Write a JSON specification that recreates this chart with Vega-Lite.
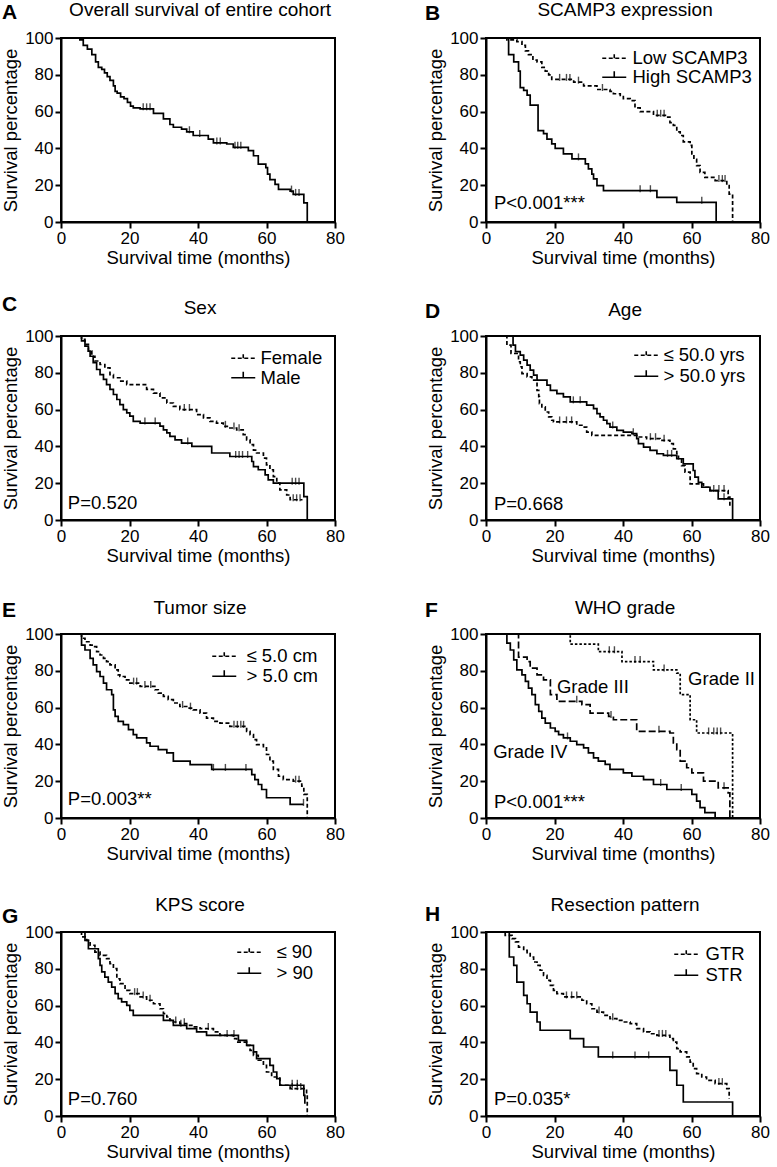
{
"$schema":"https://vega.github.io/schema/vega-lite/v6.json",
"padding":{"left":0,"top":0,"right":0,"bottom":0},
"background":"white",
"bounds":"flush",
"columns":2,
"spacing":{"row":114,"column":151},
"resolve":{"scale":{"strokeDash":"independent"},"legend":{"strokeDash":"independent"}},
"datasets":{
"km":[
{"p":"A","g":"All","t":0,"s":100},{"p":"A","g":"All","t":5.5,"s":99},{"p":"A","g":"All","t":6.5,"s":96},{"p":"A","g":"All","t":7.7,"s":94},{"p":"A","g":"All","t":9,"s":91},{"p":"A","g":"All","t":10.1,"s":87},{"p":"A","g":"All","t":10.9,"s":84},{"p":"A","g":"All","t":11.9,"s":83},{"p":"A","g":"All","t":12.7,"s":81},{"p":"A","g":"All","t":13.5,"s":79},{"p":"A","g":"All","t":14.3,"s":77},{"p":"A","g":"All","t":15.3,"s":74},{"p":"A","g":"All","t":15.8,"s":71},{"p":"A","g":"All","t":16.4,"s":70},{"p":"A","g":"All","t":17.4,"s":68},{"p":"A","g":"All","t":18.4,"s":67},{"p":"A","g":"All","t":19.4,"s":65},{"p":"A","g":"All","t":20.3,"s":63},{"p":"A","g":"All","t":21.1,"s":62},{"p":"A","g":"All","t":23.1,"s":61.5},{"p":"A","g":"All","t":27,"s":59},{"p":"A","g":"All","t":29.9,"s":56},{"p":"A","g":"All","t":31.8,"s":53},{"p":"A","g":"All","t":32.8,"s":51.5},{"p":"A","g":"All","t":35.2,"s":50.5},{"p":"A","g":"All","t":36.7,"s":49},{"p":"A","g":"All","t":38.6,"s":47},{"p":"A","g":"All","t":43,"s":45},{"p":"A","g":"All","t":44.5,"s":43},{"p":"A","g":"All","t":48.4,"s":42.4},{"p":"A","g":"All","t":50.3,"s":40.6},{"p":"A","g":"All","t":54.7,"s":38.8},{"p":"A","g":"All","t":56.2,"s":36},{"p":"A","g":"All","t":57.6,"s":31.4},{"p":"A","g":"All","t":59.8,"s":29.6},{"p":"A","g":"All","t":60.3,"s":26},{"p":"A","g":"All","t":61,"s":23},{"p":"A","g":"All","t":62.5,"s":20.5},{"p":"A","g":"All","t":63.5,"s":17.7},{"p":"A","g":"All","t":66.9,"s":16.8},{"p":"A","g":"All","t":67.8,"s":15},{"p":"A","g":"All","t":70.9,"s":10.4},{"p":"A","g":"All","t":71.9,"s":0},
{"p":"B","g":"Low SCAMP3","t":0,"s":100},{"p":"B","g":"Low SCAMP3","t":6.1,"s":99},{"p":"B","g":"Low SCAMP3","t":9,"s":98},{"p":"B","g":"Low SCAMP3","t":10.5,"s":96},{"p":"B","g":"Low SCAMP3","t":11.5,"s":93},{"p":"B","g":"Low SCAMP3","t":12.4,"s":91},{"p":"B","g":"Low SCAMP3","t":13.7,"s":88},{"p":"B","g":"Low SCAMP3","t":14.9,"s":87},{"p":"B","g":"Low SCAMP3","t":16.3,"s":84},{"p":"B","g":"Low SCAMP3","t":17.3,"s":82},{"p":"B","g":"Low SCAMP3","t":18.3,"s":80},{"p":"B","g":"Low SCAMP3","t":19.2,"s":77.5},{"p":"B","g":"Low SCAMP3","t":25.6,"s":76},{"p":"B","g":"Low SCAMP3","t":28.5,"s":74},{"p":"B","g":"Low SCAMP3","t":32.4,"s":72},{"p":"B","g":"Low SCAMP3","t":36.2,"s":71},{"p":"B","g":"Low SCAMP3","t":37.2,"s":69.7},{"p":"B","g":"Low SCAMP3","t":39.2,"s":68.8},{"p":"B","g":"Low SCAMP3","t":40.1,"s":67},{"p":"B","g":"Low SCAMP3","t":42.1,"s":66},{"p":"B","g":"Low SCAMP3","t":43.5,"s":62},{"p":"B","g":"Low SCAMP3","t":45,"s":60},{"p":"B","g":"Low SCAMP3","t":48.9,"s":58},{"p":"B","g":"Low SCAMP3","t":52.8,"s":57},{"p":"B","g":"Low SCAMP3","t":53.7,"s":54},{"p":"B","g":"Low SCAMP3","t":54.7,"s":52.5},{"p":"B","g":"Low SCAMP3","t":55.7,"s":49},{"p":"B","g":"Low SCAMP3","t":56.7,"s":47},{"p":"B","g":"Low SCAMP3","t":57.6,"s":43.6},{"p":"B","g":"Low SCAMP3","t":59.6,"s":41.6},{"p":"B","g":"Low SCAMP3","t":60.1,"s":37},{"p":"B","g":"Low SCAMP3","t":60.7,"s":34},{"p":"B","g":"Low SCAMP3","t":61.5,"s":30.6},{"p":"B","g":"Low SCAMP3","t":62.5,"s":27},{"p":"B","g":"Low SCAMP3","t":63.9,"s":24.3},{"p":"B","g":"Low SCAMP3","t":66.9,"s":22.5},{"p":"B","g":"Low SCAMP3","t":70.3,"s":19.8},{"p":"B","g":"Low SCAMP3","t":71,"s":15.2},{"p":"B","g":"Low SCAMP3","t":72,"s":0},
{"p":"B","g":"High SCAMP3","t":0,"s":100},{"p":"B","g":"High SCAMP3","t":6.6,"s":91},{"p":"B","g":"High SCAMP3","t":8.1,"s":87},{"p":"B","g":"High SCAMP3","t":9.5,"s":82},{"p":"B","g":"High SCAMP3","t":10,"s":73},{"p":"B","g":"High SCAMP3","t":11,"s":71.5},{"p":"B","g":"High SCAMP3","t":12,"s":69},{"p":"B","g":"High SCAMP3","t":12.9,"s":63.5},{"p":"B","g":"High SCAMP3","t":15.2,"s":49.7},{"p":"B","g":"High SCAMP3","t":16.8,"s":48},{"p":"B","g":"High SCAMP3","t":17.8,"s":45},{"p":"B","g":"High SCAMP3","t":19.2,"s":42.5},{"p":"B","g":"High SCAMP3","t":20.2,"s":40},{"p":"B","g":"High SCAMP3","t":22.6,"s":37},{"p":"B","g":"High SCAMP3","t":25.1,"s":34.3},{"p":"B","g":"High SCAMP3","t":29,"s":31.6},{"p":"B","g":"High SCAMP3","t":29.9,"s":28.9},{"p":"B","g":"High SCAMP3","t":30.9,"s":26},{"p":"B","g":"High SCAMP3","t":31.4,"s":23.4},{"p":"B","g":"High SCAMP3","t":32.4,"s":19.8},{"p":"B","g":"High SCAMP3","t":34.3,"s":17},{"p":"B","g":"High SCAMP3","t":49.9,"s":13.4},{"p":"B","g":"High SCAMP3","t":55.7,"s":10.7},{"p":"B","g":"High SCAMP3","t":67.2,"s":0},
{"p":"C","g":"Female","t":0,"s":100},{"p":"C","g":"Female","t":6,"s":98.2},{"p":"C","g":"Female","t":7,"s":95.5},{"p":"C","g":"Female","t":8,"s":91.8},{"p":"C","g":"Female","t":9,"s":89},{"p":"C","g":"Female","t":9.9,"s":86.4},{"p":"C","g":"Female","t":11.4,"s":84.5},{"p":"C","g":"Female","t":12.8,"s":82.7},{"p":"C","g":"Female","t":14.3,"s":79},{"p":"C","g":"Female","t":15.3,"s":77.3},{"p":"C","g":"Female","t":17.2,"s":75.5},{"p":"C","g":"Female","t":19.2,"s":73.6},{"p":"C","g":"Female","t":25,"s":71},{"p":"C","g":"Female","t":27,"s":69},{"p":"C","g":"Female","t":28.9,"s":66.4},{"p":"C","g":"Female","t":30.9,"s":63.6},{"p":"C","g":"Female","t":32.8,"s":61.8},{"p":"C","g":"Female","t":34.7,"s":60},{"p":"C","g":"Female","t":39.6,"s":57.3},{"p":"C","g":"Female","t":41.6,"s":55.5},{"p":"C","g":"Female","t":43.5,"s":53.6},{"p":"C","g":"Female","t":45.4,"s":52.7},{"p":"C","g":"Female","t":47.4,"s":50.9},{"p":"C","g":"Female","t":49.3,"s":50},{"p":"C","g":"Female","t":51.3,"s":49},{"p":"C","g":"Female","t":53.2,"s":46.4},{"p":"C","g":"Female","t":54.2,"s":43.6},{"p":"C","g":"Female","t":55.2,"s":41},{"p":"C","g":"Female","t":56.2,"s":38},{"p":"C","g":"Female","t":57.1,"s":36.4},{"p":"C","g":"Female","t":59.1,"s":33.6},{"p":"C","g":"Female","t":60,"s":30},{"p":"C","g":"Female","t":61,"s":27.3},{"p":"C","g":"Female","t":62,"s":23.6},{"p":"C","g":"Female","t":63,"s":20},{"p":"C","g":"Female","t":63.9,"s":16.4},{"p":"C","g":"Female","t":65.9,"s":13.6},{"p":"C","g":"Female","t":66.9,"s":11},{"p":"C","g":"Female","t":70.5,"s":11},
{"p":"C","g":"Male","t":0,"s":100},{"p":"C","g":"Male","t":6,"s":97.3},{"p":"C","g":"Male","t":7,"s":94.5},{"p":"C","g":"Male","t":8,"s":91.8},{"p":"C","g":"Male","t":8.5,"s":89},{"p":"C","g":"Male","t":9.4,"s":85.5},{"p":"C","g":"Male","t":10.4,"s":81.8},{"p":"C","g":"Male","t":11.4,"s":79},{"p":"C","g":"Male","t":12.4,"s":76.4},{"p":"C","g":"Male","t":13.3,"s":73.6},{"p":"C","g":"Male","t":14.3,"s":71},{"p":"C","g":"Male","t":15.3,"s":68.2},{"p":"C","g":"Male","t":16.3,"s":65.5},{"p":"C","g":"Male","t":17.2,"s":62.7},{"p":"C","g":"Male","t":18.2,"s":60},{"p":"C","g":"Male","t":19.2,"s":58.2},{"p":"C","g":"Male","t":20.1,"s":56.4},{"p":"C","g":"Male","t":21.1,"s":53.6},{"p":"C","g":"Male","t":23.1,"s":52.7},{"p":"C","g":"Male","t":28.9,"s":51},{"p":"C","g":"Male","t":29.9,"s":49},{"p":"C","g":"Male","t":30.9,"s":47.3},{"p":"C","g":"Male","t":31.8,"s":45.5},{"p":"C","g":"Male","t":33.3,"s":43.6},{"p":"C","g":"Male","t":35.2,"s":41.8},{"p":"C","g":"Male","t":38.2,"s":40},{"p":"C","g":"Male","t":44,"s":36.4},{"p":"C","g":"Male","t":49.3,"s":34.5},{"p":"C","g":"Male","t":55.7,"s":31.8},{"p":"C","g":"Male","t":56.2,"s":29},{"p":"C","g":"Male","t":57.6,"s":27.3},{"p":"C","g":"Male","t":59.6,"s":24.5},{"p":"C","g":"Male","t":60.5,"s":21.8},{"p":"C","g":"Male","t":62,"s":20},{"p":"C","g":"Male","t":70.9,"s":12.7},{"p":"C","g":"Male","t":71.9,"s":0},
{"p":"D","g":"≤ 50.0 yrs","t":0,"s":100},{"p":"D","g":"≤ 50.0 yrs","t":6.1,"s":95},{"p":"D","g":"≤ 50.0 yrs","t":7.3,"s":90.5},{"p":"D","g":"≤ 50.0 yrs","t":9.5,"s":86},{"p":"D","g":"≤ 50.0 yrs","t":10,"s":83.3},{"p":"D","g":"≤ 50.0 yrs","t":10.5,"s":79.6},{"p":"D","g":"≤ 50.0 yrs","t":12,"s":77.8},{"p":"D","g":"≤ 50.0 yrs","t":13.4,"s":76},{"p":"D","g":"≤ 50.0 yrs","t":14.9,"s":70.5},{"p":"D","g":"≤ 50.0 yrs","t":15.4,"s":67},{"p":"D","g":"≤ 50.0 yrs","t":15.6,"s":63.3},{"p":"D","g":"≤ 50.0 yrs","t":16.3,"s":61.5},{"p":"D","g":"≤ 50.0 yrs","t":17.3,"s":58.7},{"p":"D","g":"≤ 50.0 yrs","t":18.3,"s":56},{"p":"D","g":"≤ 50.0 yrs","t":19.2,"s":54.2},{"p":"D","g":"≤ 50.0 yrs","t":19.7,"s":53.3},{"p":"D","g":"≤ 50.0 yrs","t":26.5,"s":51.5},{"p":"D","g":"≤ 50.0 yrs","t":28,"s":50.5},{"p":"D","g":"≤ 50.0 yrs","t":29.4,"s":47.8},{"p":"D","g":"≤ 50.0 yrs","t":30.9,"s":46},{"p":"D","g":"≤ 50.0 yrs","t":44.5,"s":45.1},{"p":"D","g":"≤ 50.0 yrs","t":46.9,"s":44.2},{"p":"D","g":"≤ 50.0 yrs","t":50.8,"s":43.3},{"p":"D","g":"≤ 50.0 yrs","t":53.7,"s":41.5},{"p":"D","g":"≤ 50.0 yrs","t":54.7,"s":38.7},{"p":"D","g":"≤ 50.0 yrs","t":55.7,"s":36},{"p":"D","g":"≤ 50.0 yrs","t":56.2,"s":33.3},{"p":"D","g":"≤ 50.0 yrs","t":57.1,"s":29.6},{"p":"D","g":"≤ 50.0 yrs","t":58.1,"s":26},{"p":"D","g":"≤ 50.0 yrs","t":59.6,"s":19.6},{"p":"D","g":"≤ 50.0 yrs","t":63.5,"s":17.8},{"p":"D","g":"≤ 50.0 yrs","t":65.4,"s":16},{"p":"D","g":"≤ 50.0 yrs","t":70.7,"s":12.4},{"p":"D","g":"≤ 50.0 yrs","t":71.2,"s":7.8},
{"p":"D","g":"> 50.0 yrs","t":0,"s":100},{"p":"D","g":"> 50.0 yrs","t":7.9,"s":95},{"p":"D","g":"> 50.0 yrs","t":8.6,"s":91.5},{"p":"D","g":"> 50.0 yrs","t":10,"s":89.6},{"p":"D","g":"> 50.0 yrs","t":11,"s":86.9},{"p":"D","g":"> 50.0 yrs","t":12,"s":84.2},{"p":"D","g":"> 50.0 yrs","t":12.9,"s":81.5},{"p":"D","g":"> 50.0 yrs","t":13.9,"s":78.7},{"p":"D","g":"> 50.0 yrs","t":14.9,"s":76},{"p":"D","g":"> 50.0 yrs","t":17.8,"s":73.3},{"p":"D","g":"> 50.0 yrs","t":18.8,"s":70.5},{"p":"D","g":"> 50.0 yrs","t":20.7,"s":68.7},{"p":"D","g":"> 50.0 yrs","t":22.6,"s":66.9},{"p":"D","g":"> 50.0 yrs","t":24.6,"s":64.2},{"p":"D","g":"> 50.0 yrs","t":29.4,"s":62.4},{"p":"D","g":"> 50.0 yrs","t":31.4,"s":60.5},{"p":"D","g":"> 50.0 yrs","t":32.4,"s":57.8},{"p":"D","g":"> 50.0 yrs","t":33.3,"s":56},{"p":"D","g":"> 50.0 yrs","t":34.3,"s":54.2},{"p":"D","g":"> 50.0 yrs","t":35.3,"s":52.4},{"p":"D","g":"> 50.0 yrs","t":36.2,"s":50.5},{"p":"D","g":"> 50.0 yrs","t":38.2,"s":48.7},{"p":"D","g":"> 50.0 yrs","t":40.1,"s":47.8},{"p":"D","g":"> 50.0 yrs","t":42.6,"s":46.9},{"p":"D","g":"> 50.0 yrs","t":44,"s":44.2},{"p":"D","g":"> 50.0 yrs","t":44.5,"s":41.5},{"p":"D","g":"> 50.0 yrs","t":46,"s":39.6},{"p":"D","g":"> 50.0 yrs","t":47.9,"s":37.8},{"p":"D","g":"> 50.0 yrs","t":49.9,"s":36},{"p":"D","g":"> 50.0 yrs","t":51.8,"s":35.1},{"p":"D","g":"> 50.0 yrs","t":55.7,"s":33.3},{"p":"D","g":"> 50.0 yrs","t":57.6,"s":30.5},{"p":"D","g":"> 50.0 yrs","t":60.5,"s":26.9},{"p":"D","g":"> 50.0 yrs","t":61,"s":23.3},{"p":"D","g":"> 50.0 yrs","t":62,"s":20.5},{"p":"D","g":"> 50.0 yrs","t":63,"s":17.8},{"p":"D","g":"> 50.0 yrs","t":65.4,"s":16},{"p":"D","g":"> 50.0 yrs","t":67.8,"s":11.5},{"p":"D","g":"> 50.0 yrs","t":72,"s":0},
{"p":"E","g":"≤ 5.0 cm","t":0,"s":100},{"p":"E","g":"≤ 5.0 cm","t":6,"s":97.7},{"p":"E","g":"≤ 5.0 cm","t":7,"s":95.8},{"p":"E","g":"≤ 5.0 cm","t":8.5,"s":94},{"p":"E","g":"≤ 5.0 cm","t":9.4,"s":93.1},{"p":"E","g":"≤ 5.0 cm","t":10.4,"s":90.4},{"p":"E","g":"≤ 5.0 cm","t":11.4,"s":88.6},{"p":"E","g":"≤ 5.0 cm","t":12.4,"s":86.8},{"p":"E","g":"≤ 5.0 cm","t":13.3,"s":85},{"p":"E","g":"≤ 5.0 cm","t":14.3,"s":83.2},{"p":"E","g":"≤ 5.0 cm","t":15.8,"s":80.5},{"p":"E","g":"≤ 5.0 cm","t":16.7,"s":77.8},{"p":"E","g":"≤ 5.0 cm","t":17.2,"s":76.9},{"p":"E","g":"≤ 5.0 cm","t":18.7,"s":75.1},{"p":"E","g":"≤ 5.0 cm","t":20.1,"s":73.3},{"p":"E","g":"≤ 5.0 cm","t":23.1,"s":71.5},{"p":"E","g":"≤ 5.0 cm","t":27.4,"s":69.7},{"p":"E","g":"≤ 5.0 cm","t":28.4,"s":67.9},{"p":"E","g":"≤ 5.0 cm","t":29.9,"s":66.1},{"p":"E","g":"≤ 5.0 cm","t":31.3,"s":64.3},{"p":"E","g":"≤ 5.0 cm","t":32.8,"s":62.5},{"p":"E","g":"≤ 5.0 cm","t":34.7,"s":60.6},{"p":"E","g":"≤ 5.0 cm","t":36.7,"s":59.7},{"p":"E","g":"≤ 5.0 cm","t":38.6,"s":58.8},{"p":"E","g":"≤ 5.0 cm","t":40.6,"s":57},{"p":"E","g":"≤ 5.0 cm","t":42.5,"s":54.3},{"p":"E","g":"≤ 5.0 cm","t":44.5,"s":52.5},{"p":"E","g":"≤ 5.0 cm","t":46.4,"s":51.6},{"p":"E","g":"≤ 5.0 cm","t":49.3,"s":49.8},{"p":"E","g":"≤ 5.0 cm","t":54.2,"s":47.1},{"p":"E","g":"≤ 5.0 cm","t":55.2,"s":45.3},{"p":"E","g":"≤ 5.0 cm","t":56.2,"s":42.6},{"p":"E","g":"≤ 5.0 cm","t":57.1,"s":39.9},{"p":"E","g":"≤ 5.0 cm","t":59.1,"s":38.1},{"p":"E","g":"≤ 5.0 cm","t":60,"s":34.5},{"p":"E","g":"≤ 5.0 cm","t":61,"s":30.9},{"p":"E","g":"≤ 5.0 cm","t":62,"s":26.4},{"p":"E","g":"≤ 5.0 cm","t":63.5,"s":22.7},{"p":"E","g":"≤ 5.0 cm","t":64.9,"s":20.9},{"p":"E","g":"≤ 5.0 cm","t":67.8,"s":20},{"p":"E","g":"≤ 5.0 cm","t":70.3,"s":17.3},{"p":"E","g":"≤ 5.0 cm","t":70.9,"s":12.8},{"p":"E","g":"≤ 5.0 cm","t":71.9,"s":0},
{"p":"E","g":"> 5.0 cm","t":0,"s":100},{"p":"E","g":"> 5.0 cm","t":6,"s":94},{"p":"E","g":"> 5.0 cm","t":7,"s":91.3},{"p":"E","g":"> 5.0 cm","t":8.5,"s":86.8},{"p":"E","g":"> 5.0 cm","t":9.4,"s":83.2},{"p":"E","g":"> 5.0 cm","t":10.4,"s":79.6},{"p":"E","g":"> 5.0 cm","t":11.4,"s":76.9},{"p":"E","g":"> 5.0 cm","t":12.4,"s":73.3},{"p":"E","g":"> 5.0 cm","t":13.3,"s":69.7},{"p":"E","g":"> 5.0 cm","t":14.8,"s":67},{"p":"E","g":"> 5.0 cm","t":15.3,"s":58.8},{"p":"E","g":"> 5.0 cm","t":15.8,"s":55.2},{"p":"E","g":"> 5.0 cm","t":16.7,"s":52.5},{"p":"E","g":"> 5.0 cm","t":18.2,"s":50.7},{"p":"E","g":"> 5.0 cm","t":19.7,"s":48},{"p":"E","g":"> 5.0 cm","t":21.1,"s":45.3},{"p":"E","g":"> 5.0 cm","t":22.1,"s":43.5},{"p":"E","g":"> 5.0 cm","t":25,"s":40.8},{"p":"E","g":"> 5.0 cm","t":26,"s":39},{"p":"E","g":"> 5.0 cm","t":28.4,"s":37.2},{"p":"E","g":"> 5.0 cm","t":30.9,"s":35.4},{"p":"E","g":"> 5.0 cm","t":32.8,"s":30.9},{"p":"E","g":"> 5.0 cm","t":37.7,"s":29},{"p":"E","g":"> 5.0 cm","t":44,"s":26.4},{"p":"E","g":"> 5.0 cm","t":55.7,"s":23.6},{"p":"E","g":"> 5.0 cm","t":56.6,"s":20.9},{"p":"E","g":"> 5.0 cm","t":57.6,"s":18.2},{"p":"E","g":"> 5.0 cm","t":58.6,"s":15.5},{"p":"E","g":"> 5.0 cm","t":60,"s":11},{"p":"E","g":"> 5.0 cm","t":66.9,"s":7.4},{"p":"E","g":"> 5.0 cm","t":70.8,"s":7.4},
{"p":"F","g":"Grade II","t":0,"s":100},{"p":"F","g":"Grade II","t":24.6,"s":94.5},{"p":"F","g":"Grade II","t":32.8,"s":90.4},{"p":"F","g":"Grade II","t":39.7,"s":85},{"p":"F","g":"Grade II","t":48.9,"s":80.5},{"p":"F","g":"Grade II","t":55.7,"s":78.7},{"p":"F","g":"Grade II","t":56.7,"s":67},{"p":"F","g":"Grade II","t":59.6,"s":53.4},{"p":"F","g":"Grade II","t":61.5,"s":46.2},{"p":"F","g":"Grade II","t":72,"s":0},
{"p":"F","g":"Grade III","t":0,"s":100},{"p":"F","g":"Grade III","t":9.5,"s":87.4},{"p":"F","g":"Grade III","t":12,"s":85},{"p":"F","g":"Grade III","t":12.9,"s":81.4},{"p":"F","g":"Grade III","t":14.9,"s":77.8},{"p":"F","g":"Grade III","t":16.8,"s":75.1},{"p":"F","g":"Grade III","t":18.8,"s":67},{"p":"F","g":"Grade III","t":20.7,"s":63.4},{"p":"F","g":"Grade III","t":28,"s":61.6},{"p":"F","g":"Grade III","t":30.4,"s":57},{"p":"F","g":"Grade III","t":35.8,"s":55.2},{"p":"F","g":"Grade III","t":37.2,"s":53.4},{"p":"F","g":"Grade III","t":44,"s":47.1},{"p":"F","g":"Grade III","t":53.7,"s":46.2},{"p":"F","g":"Grade III","t":54.7,"s":40.8},{"p":"F","g":"Grade III","t":55.7,"s":37.2},{"p":"F","g":"Grade III","t":56.7,"s":30.9},{"p":"F","g":"Grade III","t":58.6,"s":27.3},{"p":"F","g":"Grade III","t":60.1,"s":24.5},{"p":"F","g":"Grade III","t":63.5,"s":20},{"p":"F","g":"Grade III","t":67.8,"s":16.4},{"p":"F","g":"Grade III","t":70.7,"s":13.7},{"p":"F","g":"Grade III","t":71.2,"s":0},
{"p":"F","g":"Grade IV","t":0,"s":100},{"p":"F","g":"Grade IV","t":6.1,"s":95},{"p":"F","g":"Grade IV","t":7.1,"s":91.3},{"p":"F","g":"Grade IV","t":8.1,"s":85.9},{"p":"F","g":"Grade IV","t":9,"s":80.5},{"p":"F","g":"Grade IV","t":10.5,"s":77.8},{"p":"F","g":"Grade IV","t":11.5,"s":74.2},{"p":"F","g":"Grade IV","t":12.4,"s":70.6},{"p":"F","g":"Grade IV","t":13.4,"s":67},{"p":"F","g":"Grade IV","t":14.4,"s":61.6},{"p":"F","g":"Grade IV","t":15.4,"s":58},{"p":"F","g":"Grade IV","t":16.3,"s":54.3},{"p":"F","g":"Grade IV","t":17.3,"s":51.6},{"p":"F","g":"Grade IV","t":18.8,"s":48.9},{"p":"F","g":"Grade IV","t":20.2,"s":47.1},{"p":"F","g":"Grade IV","t":21.2,"s":45.3},{"p":"F","g":"Grade IV","t":22.6,"s":43.5},{"p":"F","g":"Grade IV","t":24.6,"s":41.7},{"p":"F","g":"Grade IV","t":26.5,"s":39.9},{"p":"F","g":"Grade IV","t":28.5,"s":38.1},{"p":"F","g":"Grade IV","t":29.9,"s":35.4},{"p":"F","g":"Grade IV","t":31.4,"s":32.7},{"p":"F","g":"Grade IV","t":32.8,"s":30.9},{"p":"F","g":"Grade IV","t":34.8,"s":29.1},{"p":"F","g":"Grade IV","t":36.2,"s":26.4},{"p":"F","g":"Grade IV","t":40.1,"s":24.5},{"p":"F","g":"Grade IV","t":42.6,"s":22.7},{"p":"F","g":"Grade IV","t":46,"s":20.9},{"p":"F","g":"Grade IV","t":48.9,"s":18.2},{"p":"F","g":"Grade IV","t":52.8,"s":15.5},{"p":"F","g":"Grade IV","t":60.1,"s":12.8},{"p":"F","g":"Grade IV","t":61.5,"s":9.2},{"p":"F","g":"Grade IV","t":62.5,"s":5.6},{"p":"F","g":"Grade IV","t":63.9,"s":2.9},{"p":"F","g":"Grade IV","t":66.9,"s":0},
{"p":"G","g":"≤ 90","t":0,"s":100},{"p":"G","g":"≤ 90","t":6,"s":97.3},{"p":"G","g":"≤ 90","t":7.5,"s":95.5},{"p":"G","g":"≤ 90","t":8.5,"s":92.8},{"p":"G","g":"≤ 90","t":9.9,"s":89.1},{"p":"G","g":"≤ 90","t":11.4,"s":87.3},{"p":"G","g":"≤ 90","t":13.3,"s":85.5},{"p":"G","g":"≤ 90","t":14.3,"s":82.8},{"p":"G","g":"≤ 90","t":15.3,"s":80.1},{"p":"G","g":"≤ 90","t":16.3,"s":74.6},{"p":"G","g":"≤ 90","t":17.2,"s":71.9},{"p":"G","g":"≤ 90","t":18.7,"s":68.3},{"p":"G","g":"≤ 90","t":20.1,"s":66.5},{"p":"G","g":"≤ 90","t":23.1,"s":64.7},{"p":"G","g":"≤ 90","t":25,"s":62.9},{"p":"G","g":"≤ 90","t":27,"s":61},{"p":"G","g":"≤ 90","t":28.9,"s":58.3},{"p":"G","g":"≤ 90","t":29.9,"s":55.6},{"p":"G","g":"≤ 90","t":30.9,"s":53.8},{"p":"G","g":"≤ 90","t":31.8,"s":52},{"p":"G","g":"≤ 90","t":32.8,"s":51.1},{"p":"G","g":"≤ 90","t":34.7,"s":50.2},{"p":"G","g":"≤ 90","t":36.7,"s":49.3},{"p":"G","g":"≤ 90","t":38.6,"s":48.4},{"p":"G","g":"≤ 90","t":40.6,"s":47.5},{"p":"G","g":"≤ 90","t":44.5,"s":45.7},{"p":"G","g":"≤ 90","t":46.4,"s":43.8},{"p":"G","g":"≤ 90","t":50.3,"s":42},{"p":"G","g":"≤ 90","t":51.3,"s":40.2},{"p":"G","g":"≤ 90","t":54.2,"s":38.4},{"p":"G","g":"≤ 90","t":55.2,"s":35.7},{"p":"G","g":"≤ 90","t":56.2,"s":33},{"p":"G","g":"≤ 90","t":57.6,"s":30.3},{"p":"G","g":"≤ 90","t":59.1,"s":27.5},{"p":"G","g":"≤ 90","t":60,"s":23.9},{"p":"G","g":"≤ 90","t":61.5,"s":21.2},{"p":"G","g":"≤ 90","t":63.9,"s":16.7},{"p":"G","g":"≤ 90","t":66.9,"s":14.9},{"p":"G","g":"≤ 90","t":71.7,"s":12.1},{"p":"G","g":"≤ 90","t":71.9,"s":0},
{"p":"G","g":"> 90","t":0,"s":100},{"p":"G","g":"> 90","t":7,"s":95.5},{"p":"G","g":"> 90","t":8,"s":90.9},{"p":"G","g":"> 90","t":10.9,"s":85.5},{"p":"G","g":"> 90","t":11.4,"s":81.9},{"p":"G","g":"> 90","t":11.9,"s":78.3},{"p":"G","g":"> 90","t":12.8,"s":75.5},{"p":"G","g":"> 90","t":13.8,"s":72.8},{"p":"G","g":"> 90","t":14.8,"s":70},{"p":"G","g":"> 90","t":15.8,"s":66.5},{"p":"G","g":"> 90","t":16.7,"s":63.8},{"p":"G","g":"> 90","t":17.7,"s":62},{"p":"G","g":"> 90","t":19.2,"s":60.1},{"p":"G","g":"> 90","t":20.1,"s":57.4},{"p":"G","g":"> 90","t":21.1,"s":54.7},{"p":"G","g":"> 90","t":29.9,"s":52},{"p":"G","g":"> 90","t":32.8,"s":49.3},{"p":"G","g":"> 90","t":36.7,"s":47.5},{"p":"G","g":"> 90","t":39.6,"s":45.7},{"p":"G","g":"> 90","t":42.5,"s":43.8},{"p":"G","g":"> 90","t":51.8,"s":41.1},{"p":"G","g":"> 90","t":54.2,"s":38.4},{"p":"G","g":"> 90","t":56.2,"s":34.8},{"p":"G","g":"> 90","t":57.1,"s":31.2},{"p":"G","g":"> 90","t":61,"s":27.5},{"p":"G","g":"> 90","t":62,"s":23.9},{"p":"G","g":"> 90","t":63,"s":20.3},{"p":"G","g":"> 90","t":63.9,"s":16.7},{"p":"G","g":"> 90","t":70.9,"s":11.2},{"p":"G","g":"> 90","t":71.2,"s":6.7},
{"p":"H","g":"GTR","t":0,"s":100},{"p":"H","g":"GTR","t":5.6,"s":98.2},{"p":"H","g":"GTR","t":7.6,"s":96.4},{"p":"H","g":"GTR","t":8.6,"s":94.6},{"p":"H","g":"GTR","t":9.5,"s":91.8},{"p":"H","g":"GTR","t":11,"s":90},{"p":"H","g":"GTR","t":12,"s":88.2},{"p":"H","g":"GTR","t":12.9,"s":86.4},{"p":"H","g":"GTR","t":13.9,"s":83.7},{"p":"H","g":"GTR","t":14.9,"s":81.9},{"p":"H","g":"GTR","t":15.8,"s":79.2},{"p":"H","g":"GTR","t":16.8,"s":76.4},{"p":"H","g":"GTR","t":17.8,"s":73.7},{"p":"H","g":"GTR","t":18.8,"s":71},{"p":"H","g":"GTR","t":19.7,"s":68.3},{"p":"H","g":"GTR","t":20.7,"s":66.5},{"p":"H","g":"GTR","t":22.6,"s":64.7},{"p":"H","g":"GTR","t":28,"s":62.9},{"p":"H","g":"GTR","t":29.4,"s":61},{"p":"H","g":"GTR","t":30.9,"s":58.3},{"p":"H","g":"GTR","t":32.4,"s":56.5},{"p":"H","g":"GTR","t":34.3,"s":54.7},{"p":"H","g":"GTR","t":36.2,"s":52.9},{"p":"H","g":"GTR","t":38.2,"s":52},{"p":"H","g":"GTR","t":40.1,"s":51.1},{"p":"H","g":"GTR","t":42.1,"s":50.2},{"p":"H","g":"GTR","t":44,"s":47.5},{"p":"H","g":"GTR","t":46,"s":45.7},{"p":"H","g":"GTR","t":47.9,"s":44.7},{"p":"H","g":"GTR","t":49.9,"s":43.8},{"p":"H","g":"GTR","t":53.7,"s":42},{"p":"H","g":"GTR","t":54.7,"s":40.2},{"p":"H","g":"GTR","t":55.7,"s":36.6},{"p":"H","g":"GTR","t":56.7,"s":34.8},{"p":"H","g":"GTR","t":58.6,"s":32.1},{"p":"H","g":"GTR","t":59.6,"s":29.3},{"p":"H","g":"GTR","t":60.5,"s":25.7},{"p":"H","g":"GTR","t":61.5,"s":23},{"p":"H","g":"GTR","t":63,"s":21.2},{"p":"H","g":"GTR","t":64.4,"s":19.4},{"p":"H","g":"GTR","t":66.9,"s":17.6},{"p":"H","g":"GTR","t":70.3,"s":14.9},{"p":"H","g":"GTR","t":71,"s":9.4},
{"p":"H","g":"STR","t":0,"s":100},{"p":"H","g":"STR","t":6.8,"s":86.4},{"p":"H","g":"STR","t":8.1,"s":81.9},{"p":"H","g":"STR","t":9,"s":72.8},{"p":"H","g":"STR","t":11,"s":65.6},{"p":"H","g":"STR","t":12,"s":61},{"p":"H","g":"STR","t":12.9,"s":56.5},{"p":"H","g":"STR","t":14.9,"s":51.1},{"p":"H","g":"STR","t":15.8,"s":46.6},{"p":"H","g":"STR","t":24.6,"s":42},{"p":"H","g":"STR","t":28.5,"s":37.5},{"p":"H","g":"STR","t":32.8,"s":32.1},{"p":"H","g":"STR","t":53.7,"s":24.8},{"p":"H","g":"STR","t":55.7,"s":16.7},{"p":"H","g":"STR","t":57.6,"s":7.6},{"p":"H","g":"STR","t":72,"s":0}
],
"cens":[
{"p":"A","t":24,"s":61.5},{"p":"A","t":25,"s":61.5},{"p":"A","t":26,"s":61.5},{"p":"A","t":37.5,"s":49},{"p":"A","t":40.5,"s":47},{"p":"A","t":45.5,"s":43},{"p":"A","t":46.5,"s":43},{"p":"A","t":50.8,"s":40.6},{"p":"A","t":51.6,"s":40.6},{"p":"A","t":52.5,"s":40.6},{"p":"A","t":67.3,"s":16.8},{"p":"A","t":68.5,"s":15},{"p":"A","t":69.5,"s":15},
{"p":"B","t":21.5,"s":77.5},{"p":"B","t":23.5,"s":77.5},{"p":"B","t":24.5,"s":77.5},{"p":"B","t":27,"s":76},{"p":"B","t":34,"s":72},{"p":"B","t":50,"s":58},{"p":"B","t":51,"s":58},{"p":"B","t":52,"s":58},{"p":"B","t":68,"s":22.5},{"p":"B","t":69,"s":22.5},{"p":"B","t":69.8,"s":22.5},{"p":"B","t":27,"s":34.3},{"p":"B","t":45,"s":17},{"p":"B","t":48,"s":17},{"p":"B","t":63,"s":10.7},
{"p":"C","t":36,"s":60},{"p":"C","t":37.5,"s":60},{"p":"C","t":48,"s":50.9},{"p":"C","t":50.5,"s":50},{"p":"C","t":52,"s":49},{"p":"C","t":67.8,"s":11},{"p":"C","t":68.8,"s":11},{"p":"C","t":69.8,"s":11},{"p":"C","t":24.5,"s":52.7},{"p":"C","t":27.5,"s":52.7},{"p":"C","t":37,"s":41.8},{"p":"C","t":51,"s":34.5},{"p":"C","t":52,"s":34.5},{"p":"C","t":53,"s":34.5},{"p":"C","t":54.5,"s":34.5},{"p":"C","t":67.5,"s":20},{"p":"C","t":68.5,"s":20},{"p":"C","t":69.5,"s":20},
{"p":"D","t":21.5,"s":53.3},{"p":"D","t":23.5,"s":53.3},{"p":"D","t":25,"s":53.3},{"p":"D","t":48,"s":44.2},{"p":"D","t":49.5,"s":44.2},{"p":"D","t":52,"s":43.3},{"p":"D","t":66.5,"s":16},{"p":"D","t":68,"s":16},{"p":"D","t":69.5,"s":16},{"p":"D","t":25.5,"s":64.2},{"p":"D","t":27.5,"s":64.2},{"p":"D","t":37,"s":50.5},{"p":"D","t":43,"s":46.9},{"p":"D","t":53,"s":35.1},{"p":"D","t":54.2,"s":35.1},{"p":"D","t":69.5,"s":11.5},
{"p":"E","t":21.2,"s":73.3},{"p":"E","t":22.1,"s":73.3},{"p":"E","t":24.5,"s":71.5},{"p":"E","t":26.2,"s":71.5},{"p":"E","t":35.5,"s":60.6},{"p":"E","t":37.8,"s":59.7},{"p":"E","t":50.5,"s":49.8},{"p":"E","t":51.5,"s":49.8},{"p":"E","t":52.5,"s":49.8},{"p":"E","t":53.3,"s":49.8},{"p":"E","t":68.5,"s":20},{"p":"E","t":69.5,"s":20},{"p":"E","t":44.5,"s":26.4},{"p":"E","t":48,"s":26.4},{"p":"E","t":54,"s":26.4},{"p":"E","t":70.8,"s":7.4},
{"p":"F","t":36,"s":90.4},{"p":"F","t":37.5,"s":90.4},{"p":"F","t":43.5,"s":85},{"p":"F","t":45,"s":85},{"p":"F","t":52,"s":80.5},{"p":"F","t":65,"s":46.2},{"p":"F","t":66.5,"s":46.2},{"p":"F","t":67.5,"s":46.2},{"p":"F","t":68.5,"s":46.2},{"p":"F","t":26.5,"s":63.4},{"p":"F","t":36.5,"s":55.2},{"p":"F","t":50.5,"s":47.1},{"p":"F","t":69.5,"s":16.4},{"p":"F","t":23.8,"s":43.5},{"p":"F","t":51,"s":18.2},{"p":"F","t":57,"s":15.5},
{"p":"G","t":21.5,"s":66.5},{"p":"G","t":22.3,"s":66.5},{"p":"G","t":24,"s":64.7},{"p":"G","t":26,"s":62.9},{"p":"G","t":33.5,"s":51.1},{"p":"G","t":36,"s":50.2},{"p":"G","t":43,"s":47.5},{"p":"G","t":67.5,"s":14.9},{"p":"G","t":69,"s":14.9},{"p":"G","t":70,"s":14.9},{"p":"G","t":35,"s":49.3},{"p":"G","t":48.5,"s":43.8},{"p":"G","t":50.5,"s":43.8},{"p":"G","t":67.5,"s":16.7},{"p":"G","t":69,"s":16.7},
{"p":"H","t":23.5,"s":64.7},{"p":"H","t":25,"s":64.7},{"p":"H","t":26.5,"s":64.7},{"p":"H","t":33,"s":56.5},{"p":"H","t":37,"s":52.9},{"p":"H","t":50.5,"s":43.8},{"p":"H","t":51.5,"s":43.8},{"p":"H","t":52.5,"s":43.8},{"p":"H","t":68,"s":17.6},{"p":"H","t":69,"s":17.6},{"p":"H","t":37,"s":32.1},{"p":"H","t":43.5,"s":32.1},{"p":"H","t":47.5,"s":32.1}
]
},
"concat":[
{"width":274,"height":184,
 "layer":[
  {"data":{"name":"km"},"transform":[{"filter":"datum.p==='A'"}],"mark":{"type":"line","interpolate":"step-after","color":"black","strokeWidth":1.7},
   "encoding":{"x":{"field":"t","type":"quantitative","scale":{"domain":[0,80],"nice":false},"axis":{"values":[0,20,40,60,80],"tickCount":10,"title":"Survival time (months)"}},"y":{"field":"s","type":"quantitative","scale":{"domain":[0,100],"nice":false},"axis":{"values":[0,20,40,60,80,100],"tickCount":10,"title":"Survival percentage"}}}},
  {"data":{"name":"cens"},"transform":[{"filter":"datum.p==='A'"}],"mark":{"type":"tick","orient":"vertical","color":"black","size":7,"thickness":1.4,"yOffset":-2},"encoding":{"x":{"field":"t","type":"quantitative"},"y":{"field":"s","type":"quantitative"}}},
  {"data":{"values":[{}]},"mark":{"type":"text","align":"center","baseline":"middle","fontSize":19,"color":"black"},"encoding":{"x":{"datum":40.6},"y":{"datum":115.0},"text":{"value":"Overall survival of entire cohort"}}},
  {"data":{"values":[{}]},"mark":{"type":"text","align":"left","baseline":"middle","fontWeight":"bold","fontSize":21,"color":"black"},"encoding":{"x":{"datum":-17.2},"y":{"datum":113.5},"text":{"value":"A"}}}
 ]},
{"width":274,"height":184,
 "layer":[
  {"data":{"name":"km"},"transform":[{"filter":"datum.p==='B'"}],"mark":{"type":"line","interpolate":"step-after","color":"black","strokeWidth":1.7},
   "encoding":{"x":{"field":"t","type":"quantitative","scale":{"domain":[0,80],"nice":false},"axis":{"values":[0,20,40,60,80],"tickCount":10,"title":"Survival time (months)"}},"y":{"field":"s","type":"quantitative","scale":{"domain":[0,100],"nice":false},"axis":{"values":[0,20,40,60,80,100],"tickCount":10,"title":"Survival percentage"}},
   "strokeDash":{"field":"g","type":"nominal","scale":{"domain":["Low SCAMP3","High SCAMP3"],"range":[[4,2.5],[1,0]]},"legend":{"title":null,"orient":"none","legendX":119,"legendY":11,"labelOffset":9,"rowPadding":0}}}},
  {"data":{"name":"cens"},"transform":[{"filter":"datum.p==='B'"}],"mark":{"type":"tick","orient":"vertical","color":"black","size":7,"thickness":1.4,"yOffset":-2},"encoding":{"x":{"field":"t","type":"quantitative"},"y":{"field":"s","type":"quantitative"}}},
  {"data":{"values":[{}]},"mark":{"type":"text","align":"left","baseline":"middle","fontSize":18.5,"color":"black"},"encoding":{"x":{"datum":2.3},"y":{"datum":10.4},"text":{"value":"P<0.001***"}}},
  {"data":{"values":[{}]},"mark":{"type":"text","align":"center","baseline":"middle","fontSize":19,"color":"black"},"encoding":{"x":{"datum":40.6},"y":{"datum":115.0},"text":{"value":"SCAMP3 expression"}}},
  {"data":{"values":[{}]},"mark":{"type":"text","align":"left","baseline":"middle","fontWeight":"bold","fontSize":21,"color":"black"},"encoding":{"x":{"datum":-17.8},"y":{"datum":113.2},"text":{"value":"B"}}}
 ]},
{"width":274,"height":184,
 "layer":[
  {"data":{"name":"km"},"transform":[{"filter":"datum.p==='C'"}],"mark":{"type":"line","interpolate":"step-after","color":"black","strokeWidth":1.7},
   "encoding":{"x":{"field":"t","type":"quantitative","scale":{"domain":[0,80],"nice":false},"axis":{"values":[0,20,40,60,80],"tickCount":10,"title":"Survival time (months)"}},"y":{"field":"s","type":"quantitative","scale":{"domain":[0,100],"nice":false},"axis":{"values":[0,20,40,60,80,100],"tickCount":10,"title":"Survival percentage"}},
   "strokeDash":{"field":"g","type":"nominal","scale":{"domain":["Female","Male"],"range":[[4,2.5],[1,0]]},"legend":{"title":null,"orient":"none","legendX":173,"legendY":13,"labelOffset":8,"rowPadding":0.5}}}},
  {"data":{"name":"cens"},"transform":[{"filter":"datum.p==='C'"}],"mark":{"type":"tick","orient":"vertical","color":"black","size":7,"thickness":1.4,"yOffset":-2},"encoding":{"x":{"field":"t","type":"quantitative"},"y":{"field":"s","type":"quantitative"}}},
  {"data":{"values":[{}]},"mark":{"type":"text","align":"left","baseline":"middle","fontSize":18.5,"color":"black"},"encoding":{"x":{"datum":2.0},"y":{"datum":9.3},"text":{"value":"P=0.520"}}},
  {"data":{"values":[{}]},"mark":{"type":"text","align":"center","baseline":"middle","fontSize":19,"color":"black"},"encoding":{"x":{"datum":40.6},"y":{"datum":115.1},"text":{"value":"Sex"}}},
  {"data":{"values":[{}]},"mark":{"type":"text","align":"left","baseline":"middle","fontWeight":"bold","fontSize":21,"color":"black"},"encoding":{"x":{"datum":-17.2},"y":{"datum":116.7},"text":{"value":"C"}}}
 ]},
{"width":274,"height":184,
 "layer":[
  {"data":{"name":"km"},"transform":[{"filter":"datum.p==='D'"}],"mark":{"type":"line","interpolate":"step-after","color":"black","strokeWidth":1.7},
   "encoding":{"x":{"field":"t","type":"quantitative","scale":{"domain":[0,80],"nice":false},"axis":{"values":[0,20,40,60,80],"tickCount":10,"title":"Survival time (months)"}},"y":{"field":"s","type":"quantitative","scale":{"domain":[0,100],"nice":false},"axis":{"values":[0,20,40,60,80,100],"tickCount":10,"title":"Survival percentage"}},
   "strokeDash":{"field":"g","type":"nominal","scale":{"domain":["≤ 50.0 yrs","> 50.0 yrs"],"range":[[4,2.5],[1,0]]},"legend":{"title":null,"orient":"none","legendX":151,"legendY":10,"labelOffset":8,"rowPadding":2}}}},
  {"data":{"name":"cens"},"transform":[{"filter":"datum.p==='D'"}],"mark":{"type":"tick","orient":"vertical","color":"black","size":7,"thickness":1.4,"yOffset":-2},"encoding":{"x":{"field":"t","type":"quantitative"},"y":{"field":"s","type":"quantitative"}}},
  {"data":{"values":[{}]},"mark":{"type":"text","align":"left","baseline":"middle","fontSize":18.5,"color":"black"},"encoding":{"x":{"datum":2.3},"y":{"datum":8.7},"text":{"value":"P=0.668"}}},
  {"data":{"values":[{}]},"mark":{"type":"text","align":"center","baseline":"middle","fontSize":19,"color":"black"},"encoding":{"x":{"datum":40.6},"y":{"datum":114.1},"text":{"value":"Age"}}},
  {"data":{"values":[{}]},"mark":{"type":"text","align":"left","baseline":"middle","fontWeight":"bold","fontSize":21,"color":"black"},"encoding":{"x":{"datum":-17.8},"y":{"datum":113.3},"text":{"value":"D"}}}
 ]},
{"width":274,"height":184,
 "layer":[
  {"data":{"name":"km"},"transform":[{"filter":"datum.p==='E'"}],"mark":{"type":"line","interpolate":"step-after","color":"black","strokeWidth":1.7},
   "encoding":{"x":{"field":"t","type":"quantitative","scale":{"domain":[0,80],"nice":false},"axis":{"values":[0,20,40,60,80],"tickCount":10,"title":"Survival time (months)"}},"y":{"field":"s","type":"quantitative","scale":{"domain":[0,100],"nice":false},"axis":{"values":[0,20,40,60,80,100],"tickCount":10,"title":"Survival percentage"}},
   "strokeDash":{"field":"g","type":"nominal","scale":{"domain":["≤ 5.0 cm","> 5.0 cm"],"range":[[4,2.5],[1,0]]},"legend":{"title":null,"orient":"none","legendX":154,"legendY":13,"labelOffset":13,"rowPadding":1}}}},
  {"data":{"name":"cens"},"transform":[{"filter":"datum.p==='E'"}],"mark":{"type":"tick","orient":"vertical","color":"black","size":7,"thickness":1.4,"yOffset":-2},"encoding":{"x":{"field":"t","type":"quantitative"},"y":{"field":"s","type":"quantitative"}}},
  {"data":{"values":[{}]},"mark":{"type":"text","align":"left","baseline":"middle","fontSize":18.5,"color":"black"},"encoding":{"x":{"datum":2.0},"y":{"datum":10.3},"text":{"value":"P=0.003**"}}},
  {"data":{"values":[{}]},"mark":{"type":"text","align":"center","baseline":"middle","fontSize":19,"color":"black"},"encoding":{"x":{"datum":40.6},"y":{"datum":114},"text":{"value":"Tumor size"}}},
  {"data":{"values":[{}]},"mark":{"type":"text","align":"left","baseline":"middle","fontWeight":"bold","fontSize":21,"color":"black"},"encoding":{"x":{"datum":-17.2},"y":{"datum":112.5},"text":{"value":"E"}}}
 ]},
{"width":274,"height":184,
 "layer":[
  {"data":{"name":"km"},"transform":[{"filter":"datum.p==='F'"}],"mark":{"type":"line","interpolate":"step-after","color":"black","strokeWidth":1.7},
   "encoding":{"x":{"field":"t","type":"quantitative","scale":{"domain":[0,80],"nice":false},"axis":{"values":[0,20,40,60,80],"tickCount":10,"title":"Survival time (months)"}},"y":{"field":"s","type":"quantitative","scale":{"domain":[0,100],"nice":false},"axis":{"values":[0,20,40,60,80,100],"tickCount":10,"title":"Survival percentage"}},
   "strokeDash":{"field":"g","type":"nominal","scale":{"domain":["Grade II","Grade III","Grade IV"],"range":[[2.5,2],[7,3],[1,0]]},"legend":null}}},
  {"data":{"name":"cens"},"transform":[{"filter":"datum.p==='F'"}],"mark":{"type":"tick","orient":"vertical","color":"black","size":7,"thickness":1.4,"yOffset":-2},"encoding":{"x":{"field":"t","type":"quantitative"},"y":{"field":"s","type":"quantitative"}}},
  {"data":{"values":[{}]},"mark":{"type":"text","align":"left","baseline":"middle","fontSize":18.5,"color":"black"},"encoding":{"x":{"datum":59},"y":{"datum":75.7},"text":{"value":"Grade II"}}},
  {"data":{"values":[{}]},"mark":{"type":"text","align":"left","baseline":"middle","fontSize":18.5,"color":"black"},"encoding":{"x":{"datum":20.7},"y":{"datum":71.4},"text":{"value":"Grade III"}}},
  {"data":{"values":[{}]},"mark":{"type":"text","align":"left","baseline":"middle","fontSize":18.5,"color":"black"},"encoding":{"x":{"datum":2.1},"y":{"datum":35.7},"text":{"value":"Grade IV"}}},
  {"data":{"values":[{}]},"mark":{"type":"text","align":"left","baseline":"middle","fontSize":18.5,"color":"black"},"encoding":{"x":{"datum":2.3},"y":{"datum":8.6},"text":{"value":"P<0.001***"}}},
  {"data":{"values":[{}]},"mark":{"type":"text","align":"center","baseline":"middle","fontSize":19,"color":"black"},"encoding":{"x":{"datum":40.6},"y":{"datum":114},"text":{"value":"WHO grade"}}},
  {"data":{"values":[{}]},"mark":{"type":"text","align":"left","baseline":"middle","fontWeight":"bold","fontSize":21,"color":"black"},"encoding":{"x":{"datum":-17.8},"y":{"datum":112.5},"text":{"value":"F"}}}
 ]},
{"width":274,"height":184,
 "layer":[
  {"data":{"name":"km"},"transform":[{"filter":"datum.p==='G'"}],"mark":{"type":"line","interpolate":"step-after","color":"black","strokeWidth":1.7},
   "encoding":{"x":{"field":"t","type":"quantitative","scale":{"domain":[0,80],"nice":false},"axis":{"values":[0,20,40,60,80],"tickCount":10,"title":"Survival time (months)"}},"y":{"field":"s","type":"quantitative","scale":{"domain":[0,100],"nice":false},"axis":{"values":[0,20,40,60,80,100],"tickCount":10,"title":"Survival percentage"}},
   "strokeDash":{"field":"g","type":"nominal","scale":{"domain":["≤ 90","> 90"],"range":[[4,2.5],[1,0]]},"legend":{"title":null,"orient":"none","legendX":179,"legendY":11,"labelOffset":18,"rowPadding":2}}}},
  {"data":{"name":"cens"},"transform":[{"filter":"datum.p==='G'"}],"mark":{"type":"tick","orient":"vertical","color":"black","size":7,"thickness":1.4,"yOffset":-2},"encoding":{"x":{"field":"t","type":"quantitative"},"y":{"field":"s","type":"quantitative"}}},
  {"data":{"values":[{}]},"mark":{"type":"text","align":"left","baseline":"middle","fontSize":18.5,"color":"black"},"encoding":{"x":{"datum":2.0},"y":{"datum":9.2},"text":{"value":"P=0.760"}}},
  {"data":{"values":[{}]},"mark":{"type":"text","align":"center","baseline":"middle","fontSize":19,"color":"black"},"encoding":{"x":{"datum":40.6},"y":{"datum":114.5},"text":{"value":"KPS score"}}},
  {"data":{"values":[{}]},"mark":{"type":"text","align":"left","baseline":"middle","fontWeight":"bold","fontSize":21,"color":"black"},"encoding":{"x":{"datum":-17.2},"y":{"datum":108.4},"text":{"value":"G"}}}
 ]},
{"width":274,"height":184,
 "layer":[
  {"data":{"name":"km"},"transform":[{"filter":"datum.p==='H'"}],"mark":{"type":"line","interpolate":"step-after","color":"black","strokeWidth":1.7},
   "encoding":{"x":{"field":"t","type":"quantitative","scale":{"domain":[0,80],"nice":false},"axis":{"values":[0,20,40,60,80],"tickCount":10,"title":"Survival time (months)"}},"y":{"field":"s","type":"quantitative","scale":{"domain":[0,100],"nice":false},"axis":{"values":[0,20,40,60,80,100],"tickCount":10,"title":"Survival percentage"}},
   "strokeDash":{"field":"g","type":"nominal","scale":{"domain":["GTR","STR"],"range":[[4,2.5],[1,0]]},"legend":{"title":null,"orient":"none","legendX":191,"legendY":13,"labelOffset":10,"rowPadding":2}}}},
  {"data":{"name":"cens"},"transform":[{"filter":"datum.p==='H'"}],"mark":{"type":"tick","orient":"vertical","color":"black","size":7,"thickness":1.4,"yOffset":-2},"encoding":{"x":{"field":"t","type":"quantitative"},"y":{"field":"s","type":"quantitative"}}},
  {"data":{"values":[{}]},"mark":{"type":"text","align":"left","baseline":"middle","fontSize":18.5,"color":"black"},"encoding":{"x":{"datum":2.3},"y":{"datum":9.2},"text":{"value":"P=0.035*"}}},
  {"data":{"values":[{}]},"mark":{"type":"text","align":"center","baseline":"middle","fontSize":19,"color":"black"},"encoding":{"x":{"datum":40.6},"y":{"datum":114.5},"text":{"value":"Resection pattern"}}},
  {"data":{"values":[{}]},"mark":{"type":"text","align":"left","baseline":"middle","fontWeight":"bold","fontSize":21,"color":"black"},"encoding":{"x":{"datum":-17.8},"y":{"datum":109},"text":{"value":"H"}}}
 ]}
],
"config":{
 "font":"Liberation Sans",
 "view":{"stroke":"black","strokeWidth":2},
 "axis":{"grid":false,"domainColor":"black","domainWidth":2,"tickColor":"black","tickWidth":2,"tickSize":6,"labelColor":"black","labelFontSize":17,"labelPadding":2,"labelFlush":false,"labelOverlap":false,"labelFont":"Liberation Sans","titleFont":"Liberation Sans","titleColor":"black","titleFontSize":18.5,"titleFontWeight":"normal"},
 "axisX":{"titlePadding":2},
 "axisY":{"titlePadding":4},
 "legend":{"labelFont":"Liberation Sans","labelFontSize":18.5,"labelColor":"black","symbolType":"M-2,0H2M0,0V-1","symbolSize":144,"symbolStrokeColor":"black","symbolStrokeWidth":1.6,"symbolFillColor":"transparent","padding":0},
 "text":{"font":"Liberation Sans"}
}
}
